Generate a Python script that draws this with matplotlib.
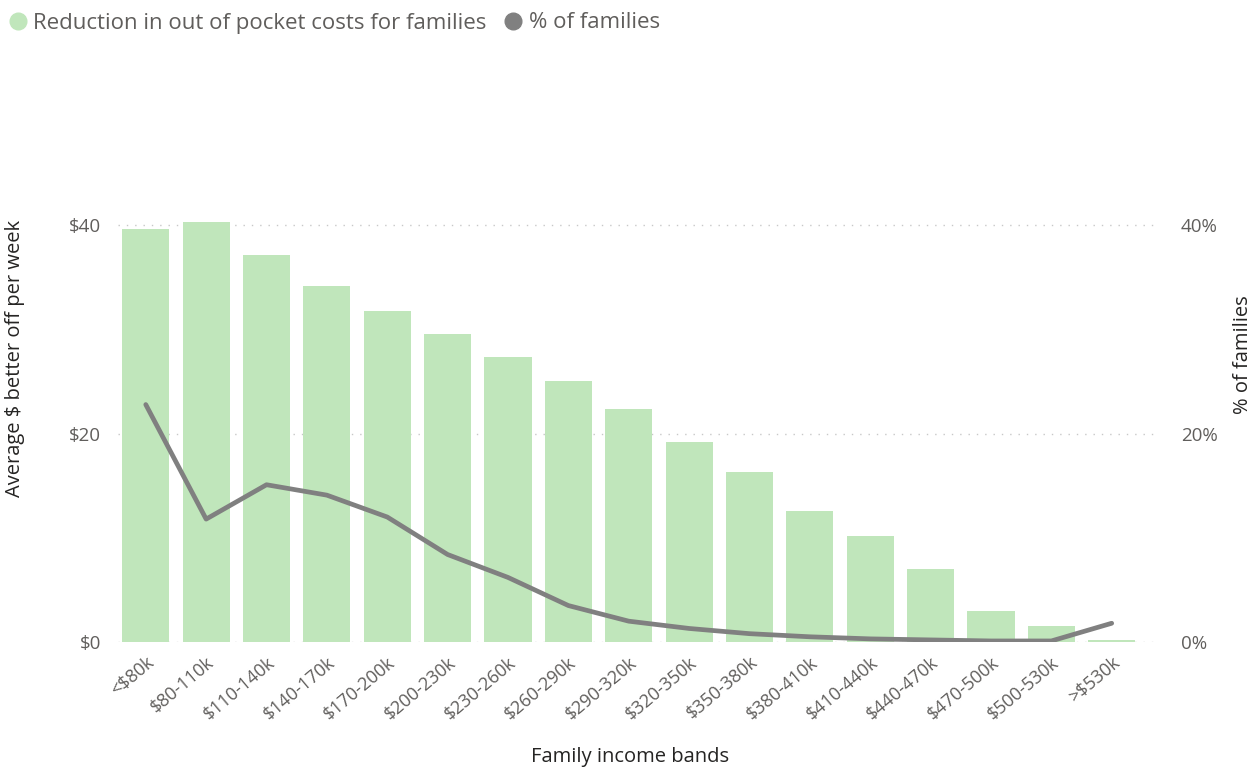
import matplotlib.pyplot as plt
import numpy as np
from matplotlib.lines import Line2D

# income bands and values
bands = ['<$80k', '$80-110k', '$110-140k', '$140-170k', '$170-200k', '$200-230k',
         '$230-260k', '$260-290k', '$290-320k', '$320-350k', '$350-380k', '$380-410k',
         '$410-440k', '$440-470k', '$470-500k', '$500-530k', '>$530k']
reduction = [39.7, 40.3, 37.2, 34.2, 31.8, 29.6, 27.4, 25.1, 22.4, 19.2, 16.3,
             12.6, 10.2, 7.0, 3.0, 1.5, 0.2]
pct_families = [22.8, 11.8, 15.1, 14.1, 12.0, 8.4, 6.2, 3.5, 2.0, 1.3, 0.8,
                0.5, 0.3, 0.2, 0.1, 0.1, 1.8]

plt.rcParams['font.family'] = ['Open Sans', 'DejaVu Sans']
bar_col = '#c0e6bb'
line_col = '#808080'
txt_col = '#605e5c'
lab_col = '#252423'

fig = plt.figure(figsize=(12.6, 7.69), dpi=100)
ax = fig.add_axes([118/1260, 1-642/769, (1160-118)/1260, (642-215)/769])
ax2 = ax.twinx()

x = np.arange(len(bands))
ax.bar(x, reduction, width=0.78, color=bar_col, zorder=2)
ax2.plot(x, pct_families, color=line_col, lw=3.4, solid_capstyle='round',
         solid_joinstyle='round', zorder=3)

ax.set_ylim(0, 41)
ax2.set_ylim(0, 41)
ax.set_xlim(-0.46, 16.8)
for a in (ax, ax2):
    for s in a.spines.values():
        s.set_visible(False)
ax.set_zorder(ax2.get_zorder() - 1)
ax2.patch.set_visible(False)

ax.set_yticks([0, 20, 40])
ax.set_yticklabels(['$0', '$20', '$40'])
ax2.set_yticks([0, 20, 40])
ax2.set_yticklabels(['0%', '20%', '40%'])
for v in [0, 20, 40]:
    ax.axhline(v, color='#c8c8c8', lw=1, ls=(0, (1, 5)), zorder=1)

ax.tick_params(axis='y', length=0, pad=12, labelsize=13.5, labelcolor=txt_col)
ax2.tick_params(axis='y', length=0, pad=15, labelsize=13.5, labelcolor=txt_col)
ax.set_xticks(x)
ax.set_xticklabels(bands, rotation=40, ha='right', rotation_mode='anchor')
ax.tick_params(axis='x', length=0, pad=8, labelsize=13, labelcolor=txt_col)

fig.text(15/1260, 1-358/769, 'Average $ better off per week', rotation=90,
         ha='center', va='center', fontsize=14.5, color=lab_col)
fig.text(1243/1260, 1-355/769, '% of families', rotation=90,
         ha='center', va='center', fontsize=14.5, color=lab_col)
fig.text(630/1260, 1-757/769, 'Family income bands', ha='center', va='center',
         fontsize=14.5, color=lab_col)

handles = [Line2D([], [], marker='o', ls='', color=bar_col, markersize=12),
           Line2D([], [], marker='o', ls='', color=line_col, markersize=12)]
fig.legend(handles, ['Reduction in out of pocket costs for families', '% of families'],
           loc='center left', bbox_to_anchor=(0.0, 1-23/769), ncol=2, frameon=False,
           fontsize=16, handletextpad=0.0, columnspacing=0.5, borderaxespad=0,
           borderpad=0.1, handlelength=1.4, labelcolor=txt_col)

fig.savefig('out.png', dpi=100)
